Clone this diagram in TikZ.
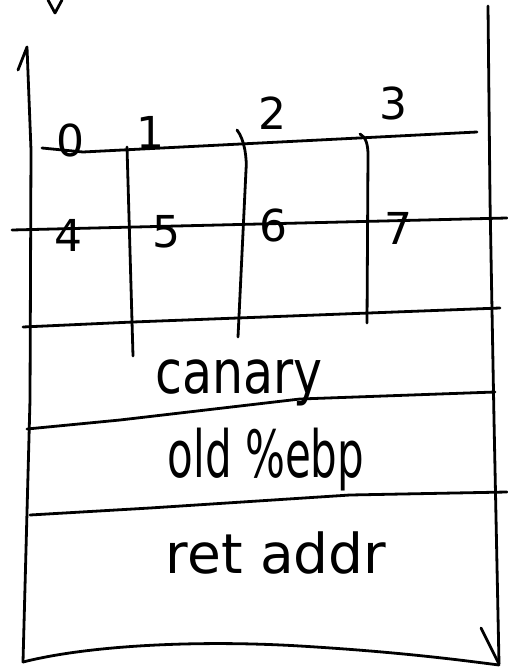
\documentclass[tikz,border=0pt]{standalone}
\usepackage{fontspec}
\setmainfont{DejaVu Sans}
\begin{document}
\begin{tikzpicture}[x=1pt,y=-1pt,
  pen/.style={line width=2.8pt, line cap=round, line join=round},
  digit/.style={font=\fontsize{44}{44}\selectfont, inner sep=0pt},
  word/.style={inner sep=0pt, anchor=base}]
\useasboundingbox (0,0) rectangle (507,668);
% outer frame
\draw[pen] (48,0) -- (55,13) -- (62,0);
\draw[pen] (18,70) -- (27,47) -- (31,150) -- (30,400) -- (23,662);
\draw[pen] (488,6) -- (490,200) -- (494,420) -- (499,664);
\draw[pen] (481,628) -- (499,664);
\draw[pen] (23,662) .. controls (90,645) and (200,640) .. (300,646)
  .. controls (400,652) and (460,660) .. (499,665);
% array grid
\draw[pen] (42,148) -- (83,152) -- (477,132);
\draw[pen] (12,230) -- (507,218);
\draw[pen] (23,327) -- (133,322) -- (500,308);
\draw[pen] (127,147) -- (133,356);
\draw[pen] (237,130) .. controls (245,140) and (247,160) .. (246,170) -- (238,337);
\draw[pen] (360,134) .. controls (366,137) and (368,145) .. (368,155) -- (367,323);
% stack separators
\draw[pen] (27,429) -- (120,420) -- (300,399) -- (495,392);
\draw[pen] (30,515) -- (150,508) -- (350,495) -- (507,492);
% labels
\node[digit] (d0) at (70,140) {0};
\node[digit] (d1) at (150,132) {1};
\node[digit] (d2) at (272,113) {2};
\node[digit] (d3) at (393,103) {3};
\node[digit] (d4) at (68,235) {4};
\node[digit] (d5) at (166,232) {5};
\node[digit] (d6) at (273,225) {6};
\node[digit] (d7) at (398,228) {7};
\node[word] (canary) at (239,393) {\fontsize{49}{49}\selectfont\scalebox{1}[1.23]{canary}};
\node[word] (oldebp) at (266,477) {\fontsize{42}{42}\selectfont\scalebox{1}[1.55]{old \%ebp}};
\node[word] (retaddr) at (276,573) {\fontsize{55}{55}\selectfont ret addr};
\end{tikzpicture}
\end{document}
